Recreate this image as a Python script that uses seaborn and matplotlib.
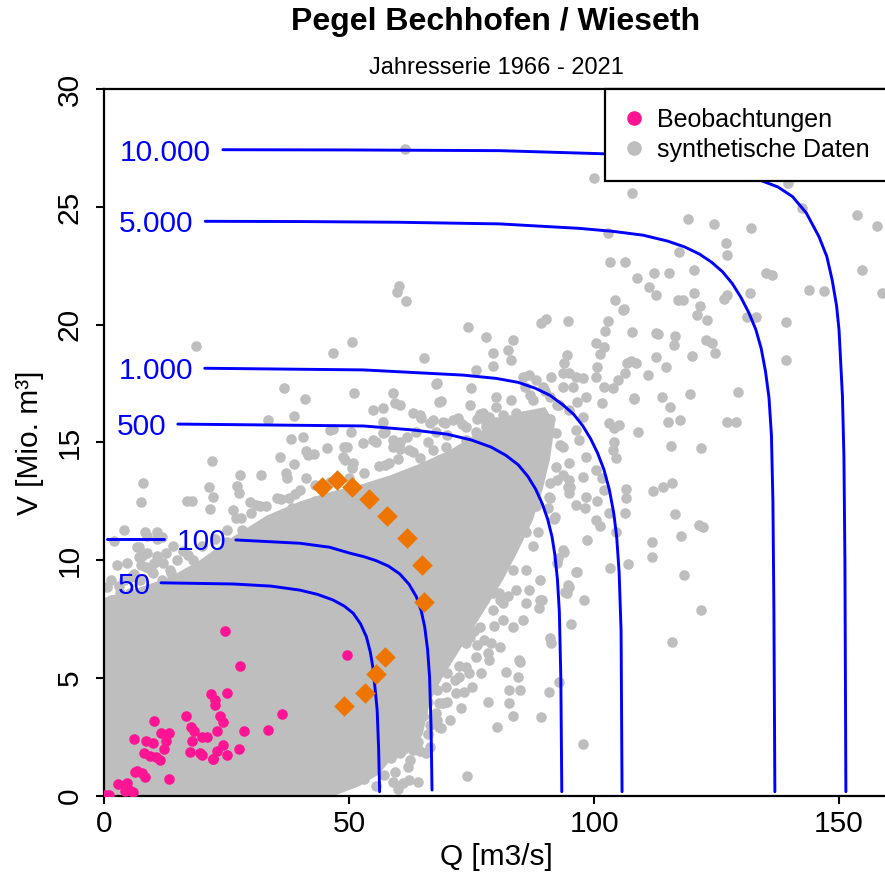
import matplotlib
matplotlib.use("Agg")
import matplotlib.pyplot as plt
from matplotlib.lines import Line2D
import seaborn as sns

# observations (pink)
obs_q = [24.7, 27.7, 21.8, 25.0, 22.6, 22.6, 23.7, 24.2, 16.6, 10.1, 17.6, 18.3,
         17.9, 20.0, 21.0, 22.9, 28.6, 33.4, 36.3, 6.1, 8.6, 9.9, 11.6, 13.1,
         12.6, 12.2, 8.1, 9.3, 10.5, 11.4, 17.4, 19.5, 19.9, 22.1, 23.0, 24.3,
         25.0, 27.5, 6.6, 7.6, 8.4, 13.1, 2.8, 4.6, 4.8, 5.9, 4.2, 0.9, 0.2,
         49.6, 22.2, 6.3]
obs_v = [6.99, 5.51, 4.32, 4.35, 4.06, 3.84, 3.38, 3.13, 3.38, 3.16, 2.93, 2.73,
         2.34, 2.51, 2.48, 2.76, 2.76, 2.79, 3.46, 2.41, 2.34, 2.22, 2.65, 2.65,
         2.34, 2.00, 1.80, 1.69, 1.63, 1.52, 1.84, 1.80, 1.72, 1.54, 1.91, 2.14,
         1.74, 2.00, 1.05, 0.95, 0.81, 0.72, 0.50, 0.55, 0.30, 0.17, 0.21, 0.03, 0.05,
         5.97, 1.56, 1.02]

# design events (orange diamonds)
event_q = [44.5, 47.4, 50.6, 54.0, 57.7, 61.7, 64.8, 65.2, 57.4, 55.5, 53.2, 48.9]
event_v = [13.12, 13.41, 13.12, 12.59, 11.88, 10.93, 9.80, 8.24, 5.88, 5.17, 4.35, 3.82]

# outline of the area where the synthetic points cover everything
core_q = [0, 47.0, 52.0, 56.0, 58.0, 62.0, 65.0, 66.5, 69.0, 72.0, 75.0, 78.0, 81.5,
          84.5, 87.5, 89.5, 91.0, 92.0, 90.0, 85.0, 80.0, 76.7, 70.6, 64.5, 58.3,
          52.2, 46.1, 40.0, 33.2, 26.3, 19.5, 13.6, 6.7, 0]
core_v = [0, 0, 0.4, 0.9, 1.4, 1.8, 2.6, 4.0, 5.0, 6.0, 7.0, 8.0, 9.2, 10.4, 11.7,
          13.0, 14.3, 15.8, 16.5, 16.3, 15.9, 15.45, 14.68, 14.1, 13.6, 13.2, 12.9,
          12.5, 11.9, 11.0, 10.0, 9.3, 8.8, 8.4]

# single synthetic points outside that area
synth_q = [61.3, 60.1, 59.8, 61.5, 18.7, 46.7, 50.6, 65.2, 74.2, 78.0, 79.3, 79.4, 75.8,
           100.0, 107.7, 139.6, 142.5, 153.6, 157.8, 119.1, 124.5, 132.0, 127.0, 127.2,
           117.4, 102.8, 103.2, 106.2, 112.3, 115.2, 120.4, 108.7, 111.1, 112.7, 117.2,
           118.2, 120.4, 121.6, 126.5, 127.2, 131.8, 135.0, 136.3, 143.9, 146.9, 154.7,
           158.8, 139.2, 139.2, 104.3, 106.0, 102.8, 102.3, 107.7, 113.0, 116.6, 116.3,
           119.9, 122.9, 124.0, 124.7, 131.3, 133.1, 89.2, 90.2, 94.6, 83.4, 82.4, 83.1,
           94.4, 93.9, 100.4, 101.1, 106.8, 107.5, 112.6, 114.7, 129.3, 127.2, 128.9,
           121.9, 115.7, 109.0, 115.0, 117.5, 115.5, 113.8, 108.2, 119.6, 110.9, 108.5,
           106.2, 104.8, 103.8, 102.1, 101.7, 103.1, 104.1, 105.1, 104.1, 100.5, 100.4,
           102.1, 105.8, 112.6, 121.1, 123.0,
           115.9, 114.0, 112.1, 116.6, 121.4, 122.3, 117.7, 111.9, 111.9, 118.4, 121.8,
           108.1, 106.5, 106.6, 106.3, 107.0, 103.2, 104.5, 103.0, 100.4, 101.1, 98.6,
           100.6, 96.3, 98.2, 94.7, 103.8, 104.5, 100.4, 101.6, 102.1, 96.3, 96.6, 93.6,
           93.9, 92.4, 94.8, 94.4, 98.0, 89.0, 86.8, 89.0, 84.1, 81.3, 79.3, 77.6, 92.1,
           90.7,
           95.3, 90.9, 91.2, 92.9, 90.7, 89.2, 97.7, 84.9, 84.4, 84.9, 82.7, 82.0, 82.7,
           83.4, 78.3, 80.1, 74.1, 72.9, 73.5, 68.8, 66.4, 64.0, 61.0, 68.4, 67.1, 65.7,
           62.3, 95.1, 93.6, 91.9, 90.9, 88.2, 92.6, 94.6, 94.1, 89.4, 88.7, 115.9, 84.7,
           80.7, 78.3, 75.9, 74.6, 78.6, 73.9, 86.1, 85.4, 83.4, 81.3, 79.3, 80.7, 77.3,
           75.2, 76.6, 72.5, 73.9, 71.8, 69.1, 68.4, 62.3, 67.8, 69.8, 59.6, 63.7, 60.3,
           63.0, 59.3,
           36.7, 50.9, 41.0, 38.7, 33.5, 46.6, 50.4, 38.2, 40.6, 45.5, 48.9, 49.5, 41.1,
           41.5, 42.9, 35.8, 38.8, 49.2, 50.6, 22.0, 7.95, 7.4, 27.6, 31.9, 37.1, 37.3,
           41.1, 21.3, 22.2, 27.1, 27.5, 16.9, 17.9, 21.5, 26.3, 26.9, 29.8, 30.9, 31.7,
           35.3, 37.7, 38.3, 39.9, 8.4, 10.8, 11.8, 6.7, 7.1, 8.8, 28.1, 29.2, 32.9, 31.9,
           54.8, 56.9, 58.9, 59.3, 60.3, 56.9, 57.2, 58.9, 60.3, 61.7, 55.5, 58.2, 57.2,
           64.4, 64.7, 67.1, 69.1, 71.2, 72.2, 68.4, 67.8, 74.6, 76.6, 77.3, 78.0, 79.0,
           75.9, 73.9, 72.5, 74.6, 67.1, 69.8, 64.4, 68.4, 33.1, 29.7, 28.4, 25.0, 21.5,
           19.5, 18.1, 14.8, 13.7, 11.7, 10.0, 8.6, 7.3, 5.3, 3.2, 1.8, 0.5,
           8.8, 10.8, 7.1, 7.7, 10.8, 4.7, 7.4, 10.1, 13.5, 16.9, 19.0, 21.7, 4.0, 1.3,
           1.3, 4.0, 1.0, 3.3,
           67.9, 68.8, 74.9, 80.0, 77.3, 78.6, 81.3, 84.1, 85.4, 86.8, 88.2, 91.2, 93.6,
           94.9, 96.3, 97.7, 85.8, 89.5, 93.6, 95.6, 87.5, 90.9, 92.9, 96.6, 98.3, 94.9,
           97.7, 73.9, 78.0, 80.0, 82.7, 77.3, 82.7, 86.8, 89.5, 86.8, 92.2, 96.3, 84.1,
           63.0, 66.4, 69.5, 67.8, 63.7, 60.3, 62.3, 58.9, 56.9, 54.8, 52.8, 48.7, 50.8,
           46.0, 74.6, 78.0, 81.3, 85.4, 89.5, 93.6, 97.0, 98.3, 94.9, 92.2, 88.2, 84.1,
           80.0, 94.9, 97.7, 98.3, 94.9, 90.9, 86.8,
           2.5, 5.5, 15.0, 23.0, 24.0, 26.0, 31.0, 34.0, 36.0, 38.0, 41.0, 43.0, 2.0,
           4.0, 12.5, 14.0, 16.0, 18.0,
           57.0, 58.5, 60.5, 62.0, 63.5, 65.0, 66.0, 68.0, 70.0, 71.0, 73.0, 75.5, 76.0,
           78.5, 80.5, 83.0, 86.0, 87.0, 89.0, 88.5, 91.0,
           3.0, 6.0, 9.5, 12.0, 17.0, 20.0, 22.5, 25.0, 28.0, 30.0, 33.0, 36.0, 39.0,
           43.0, 46.0, 50.0, 53.0, 56.0, 60.0, 63.0, 66.0, 70.0, 73.0, 76.0, 80.0, 83.0,
           87.0, 90.0, 92.5, 89.0,
           60.0, 62.5, 64.5, 66.5, 68.0, 70.0, 71.5, 72.5, 74.5, 76.0, 77.5, 79.5, 80.5,
           82.5, 83.5, 86.0, 87.5, 88.5, 86.5, 90.5, 92.5, 93.0, 75.0, 77.0, 79.0, 70.5,
           53.0, 55.5, 57.5, 59.0, 61.5, 64.0, 66.0]
synth_v = [27.46, 21.64, 21.38, 21.02, 19.10, 18.81, 19.28, 18.57, 19.92, 19.49, 18.79,
           18.25, 18.08, 26.24, 25.60, 26.00, 24.94, 24.66, 24.20, 24.49, 24.26, 24.09,
           23.46, 22.96, 23.10, 23.91, 22.68, 22.68, 22.21, 22.21, 22.32, 21.97, 21.61,
           21.26, 21.05, 21.05, 21.33, 20.79, 21.08, 21.26, 21.33, 22.18, 22.11, 21.47,
           21.43, 22.32, 21.33, 20.13, 18.50, 21.05, 20.65, 20.16, 19.73, 19.70, 19.60,
           19.52, 19.14, 18.67, 19.35, 19.24, 18.81, 20.34, 20.34, 20.06, 20.23, 20.17,
           19.35, 18.93, 18.50, 18.71, 18.36, 19.21, 18.76, 18.36, 18.47, 18.62, 18.22,
           17.13, 15.86, 15.86, 14.78, 14.85, 15.43, 15.86, 15.95, 16.49, 16.94, 16.87,
           17.06, 17.86, 18.36, 17.94, 17.65, 17.30, 17.37, 16.66, 15.81, 15.60, 15.74,
           15.03, 18.22, 17.79, 19.07, 20.62, 19.66, 20.41, 20.20,
           13.27, 13.12, 12.94, 11.96, 11.49, 11.40, 11.04, 10.79, 10.15, 9.36, 7.89,
           16.83, 13.01, 12.65, 11.99, 9.83, 9.68, 11.18, 11.99, 11.71, 11.46, 10.86,
           12.51, 12.33, 12.20, 13.10, 14.68, 14.33, 13.83, 13.48, 12.98, 9.51, 9.49,
           10.43, 10.36, 9.87, 8.87, 8.59, 8.31, 9.16, 8.73, 8.31, 8.73, 8.17, 8.59, 8.31,
           11.85, 12.70,
           7.28, 6.68, 6.47, 4.82, 4.39, 3.35, 2.18, 5.69, 5.05, 4.49, 4.49, 5.27, 3.92,
           3.40, 3.99, 2.90, 0.85, 3.71, 4.42, 2.86, 2.08, 0.59, 0.53, 3.92, 3.35, 1.80,
           2.50, 13.10, 13.62, 11.74, 12.63, 12.30, 10.08, 8.95, 8.66, 8.31, 7.96, 6.54,
           5.76, 6.33, 6.05, 5.90, 6.75, 5.76, 6.47, 8.17, 7.46, 7.18, 7.46, 7.89, 8.31,
           8.45, 7.89, 7.18, 5.05, 5.48, 4.35, 3.92, 2.93, 0.67, 3.50, 4.63, 2.65, 2.65,
           1.80, 1.94, 1.02,
           17.32, 17.11, 16.83, 16.14, 15.95, 15.56, 15.43, 15.13, 15.22, 14.75, 14.79,
           14.82, 14.65, 14.47, 14.51, 14.37, 14.07, 14.25, 13.90, 14.21, 13.29, 12.46,
           13.62, 13.62, 13.69, 13.48, 13.48, 13.12, 12.70, 13.15, 12.84, 12.51, 12.51,
           12.19, 12.13, 11.78, 12.48, 12.34, 12.30, 12.63, 12.63, 12.20, 12.98, 11.18,
           11.18, 10.97, 10.57, 10.15, 10.29, 11.28, 11.07, 11.28, 10.86,
           16.38, 16.45, 17.09, 16.66, 16.59, 15.88, 15.45, 15.10, 14.71, 15.25, 15.03,
           14.11, 14.04, 16.16, 16.02, 15.95, 15.88, 15.95, 16.02, 16.72, 17.50, 16.57,
           16.21, 16.02, 15.67, 15.46, 15.46, 15.10, 14.54, 14.39, 14.68, 14.82, 14.33,
           14.25, 11.57, 11.14, 10.57, 10.79, 10.01, 9.72, 9.16, 10.01, 9.44, 9.16, 9.44,
           9.72, 9.16, 8.59, 8.59, 8.31, 8.87,
           11.03, 10.89, 10.54, 10.19, 10.19, 9.87, 9.80, 9.87, 9.58, 9.44, 9.58, 9.72,
           9.16, 9.16, 8.31, 8.31, 7.47, 7.47,
           17.51, 16.77, 17.30, 16.94, 16.24, 16.09, 16.16, 16.24, 17.79, 17.86, 17.65,
           17.79, 17.94, 17.94, 17.79, 17.72, 17.37, 17.37, 17.37, 17.37, 16.80, 16.94,
           16.59, 16.73, 16.94, 16.36, 16.09, 15.67, 15.81, 15.88, 15.95, 15.24, 15.53,
           16.09, 15.81, 15.24, 15.39, 15.53, 14.96, 16.24, 15.81, 15.81, 15.46, 15.46,
           15.03, 14.68, 14.82, 15.39, 15.10, 14.96, 14.39, 14.11, 15.51, 14.71, 14.50,
           14.65, 14.37, 14.65, 14.82, 15.10, 14.39, 14.11, 13.97, 13.83, 13.97, 14.11,
           13.41, 13.55, 12.70, 12.84, 13.27, 13.27,
           9.8, 9.3, 9.0, 9.9, 10.4, 9.7, 10.7, 11.2, 11.5, 12.0, 12.2, 12.5, 10.8, 11.3,
           10.3, 10.6, 10.4, 10.0,
           0.9, 1.6, 2.0, 1.2, 3.0, 3.4, 2.6, 4.5, 5.2, 6.2, 7.2, 7.0, 8.5, 8.9, 9.7,
           10.4, 11.2, 12.4, 13.9, 15.2, 16.0,
           8.9, 9.4, 9.6, 9.9, 10.2, 10.6, 10.9, 11.3, 11.8, 12.0, 12.3, 12.6, 12.8, 13.2,
           13.3, 13.5, 13.7, 14.0, 14.3, 14.6, 15.0, 15.3, 15.8, 16.0, 16.5, 16.8, 17.0,
           17.2, 16.6, 16.2,
           0.3, 1.5, 1.9, 3.0, 3.2, 4.0, 4.9, 5.5, 5.2, 6.4, 6.6, 7.2, 8.6, 8.5, 9.6,
           9.6, 10.6, 11.2, 12.5, 12.2, 13.4, 14.9, 4.6, 5.2, 6.5, 3.2,
           0.7, 0.4, 1.8, 0.6, 2.6, 2.3, 4.0]

# isolines of the joint return period
iso_10000_q = [24.2, 50.0, 80.7, 103.1, 115.0, 121.4, 126.0, 129.6, 133.7, 137.5,
               140.5, 143.3, 145.9, 147.5, 148.6, 149.5, 150.0, 150.7, 151.0, 151.2,
               151.4]
iso_10000_v = [27.43, 27.42, 27.39, 27.25, 27.05, 26.87, 26.70, 26.50, 26.15, 25.85,
               25.44, 24.75, 23.74, 22.90, 21.90, 20.80, 19.78, 16.94, 14.39, 10.0,
               0.17]
iso_5000_q = [20.6, 40.0, 60.0, 80.7, 97.0, 104.0, 110.0, 115.0, 118.5, 121.5, 124.0,
              126.2, 128.2, 130.0, 131.6, 133.0, 134.1, 135.0, 135.7, 136.2, 136.5,
              136.7, 136.9]
iso_5000_v = [24.39, 24.38, 24.35, 24.28, 24.09, 23.96, 23.80, 23.55, 23.30, 23.00,
              22.65, 22.25, 21.75, 21.15, 20.50, 19.80, 19.00, 18.00, 16.90, 15.30,
              12.50, 8.0, 0.17]
iso_1000_q = [20.5, 52.9, 73.2, 80.0, 84.5, 88.0, 91.0, 93.6, 95.8, 97.7, 99.3, 100.7,
              102.0, 103.1, 104.0, 104.6, 105.1, 105.5, 105.7]
iso_1000_v = [18.15, 18.08, 17.86, 17.72, 17.55, 17.30, 17.00, 16.60, 16.20, 15.70,
              15.15, 14.55, 13.85, 13.00, 12.00, 11.00, 9.50, 7.00, 0.17]
iso_500_q = [15.0, 52.9, 63.0, 70.0, 75.0, 79.0, 82.0, 84.5, 86.5, 88.1, 89.4, 90.5,
             91.4, 92.0, 92.5, 92.9, 93.2, 93.4]
iso_500_v = [15.78, 15.70, 15.53, 15.35, 15.10, 14.80, 14.45, 14.05, 13.55, 13.00,
             12.40, 11.75, 11.00, 10.20, 9.20, 7.80, 5.00, 0.17]
iso_100a_q = [0.5, 12.1]
iso_100a_v = [10.90, 10.90]
iso_100_q = [26.85, 39.9, 46.0, 50.1, 53.0, 55.5, 58.0, 60.3, 62.2, 63.7, 64.7, 65.4,
             66.0, 66.4, 66.7, 66.9]
iso_100_v = [10.86, 10.72, 10.55, 10.30, 10.15, 9.98, 9.75, 9.42, 8.98, 8.45, 7.85,
             7.18, 6.20, 5.05, 3.00, 0.24]
iso_50_q = [11.56, 26.3, 34.0, 39.9, 43.5, 46.7, 49.0, 50.8, 52.3, 53.5, 54.3, 54.8,
            55.3, 55.7, 56.0, 56.2]
iso_50_v = [9.04, 8.99, 8.90, 8.73, 8.55, 8.31, 8.05, 7.75, 7.30, 6.75, 6.10, 5.48,
            4.50, 3.64, 2.00, 0.17]

iso_labels = ["10.000", "5.000", "1.000", "500", "100", "50"]
iso_label_q = [12.4, 10.5, 10.6, 7.7, 19.9, 6.1]
iso_label_v = [27.43, 24.39, 18.15, 15.78, 10.90, 9.04]

GREY = "#bebebe"
PINK = "#ff1493"
ORANGE = "#ee7600"
BLUE = "#0000ff"

sns.set_theme(style="ticks")
plt.rcParams["font.family"] = ["Liberation Sans", "DejaVu Sans"]
plt.rcParams["text.color"] = "black"
plt.rcParams["axes.labelcolor"] = "black"

fig = plt.figure(figsize=(8.85, 8.77), dpi=100)
ax = fig.add_axes([0.1179, 0.0927, 0.8855, 0.8056])

ax.fill(core_q, core_v, color=GREY, lw=0, zorder=1)
sns.scatterplot(x=synth_q, y=synth_v, color=GREY, s=58, linewidth=0, ax=ax, zorder=2)
sns.scatterplot(x=obs_q, y=obs_v, color=PINK, s=58, linewidth=0, ax=ax, zorder=3)

for q, v in [(iso_10000_q, iso_10000_v), (iso_5000_q, iso_5000_v),
             (iso_1000_q, iso_1000_v), (iso_500_q, iso_500_v),
             (iso_100a_q, iso_100a_v), (iso_100_q, iso_100_v),
             (iso_50_q, iso_50_v)]:
    sns.lineplot(x=q, y=v, sort=False, estimator=None, color=BLUE, lw=2.1,
                 ax=ax, zorder=4)

for txt, q, v in zip(iso_labels, iso_label_q, iso_label_v):
    ax.text(q, v, txt, color=BLUE, fontsize=21.5, ha="center",
            va="center_baseline", zorder=5)

sns.scatterplot(x=event_q, y=event_v, color=ORANGE, marker="D", s=110,
                linewidth=0, ax=ax, zorder=6)

ax.set_xlim(0, 160)
ax.set_ylim(0, 30)
ax.set_xticks([0, 50, 100, 150])
ax.set_yticks(range(0, 31, 5))
ax.set_yticklabels([str(t) for t in range(0, 31, 5)], rotation=90, va="center")
ax.tick_params(direction="out", length=6, width=1.5, labelsize=21.5, color="black",
               labelcolor="black")
ax.tick_params(axis="y", pad=9)
ax.tick_params(axis="x", pad=4)
for sp in ax.spines.values():
    sp.set_linewidth(1.6)
    sp.set_color("black")
ax.set_xlabel("Q [m3/s]", fontsize=21.5, labelpad=4)
ax.set_ylabel("V [Mio. m³]", fontsize=21.5, labelpad=8)

handles = [Line2D([], [], ls="", marker="o", color=PINK, markersize=9.5),
           Line2D([], [], ls="", marker="o", color=GREY, markersize=9.5)]
leg = ax.legend(handles, ["Beobachtungen", "synthetische Daten"], loc="upper right",
                bbox_to_anchor=(1, 1), borderaxespad=0, fancybox=False,
                framealpha=1, edgecolor="black", fontsize=18, handlelength=0.8,
                handletextpad=0.5, labelspacing=0.25, borderpad=0.75)
leg.get_frame().set_linewidth(1.6)
leg.set_zorder(10)

fig.text(496 / 885, 1 - 22 / 877, "Pegel Bechhofen / Wieseth", ha="center",
         va="center", fontsize=23, fontweight="bold")
fig.text(496 / 885, 1 - 68 / 877, "Jahresserie 1966 - 2021", ha="center",
         va="center", fontsize=17)

fig.savefig("out.png", dpi=100)
